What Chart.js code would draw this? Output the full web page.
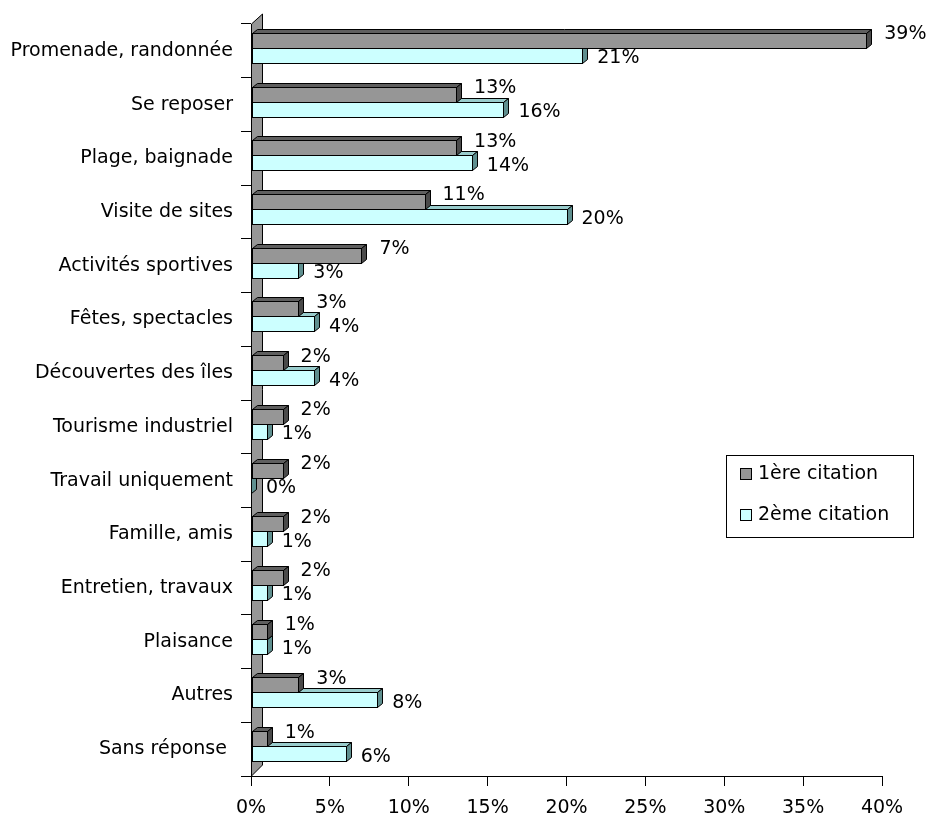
<!DOCTYPE html>
<html>
<head>
<meta charset="utf-8">
<title>Motifs de séjour</title>
<script src="https://cdn.jsdelivr.net/npm/chart.js@4"></script>
<style>
  html, body { margin: 0; padding: 0; background: #fff; }
  #wrap { width: 929px; height: 817px; position: relative; }
</style>
</head>
<body>
<div id="wrap"><canvas id="chart"></canvas></div>
<script>
const categories = [
    'Promenade, randonnée', 'Se reposer', 'Plage, baignade', 'Visite de sites',
    'Activités sportives', 'Fêtes, spectacles', 'Découvertes des îles',
    'Tourisme industriel', 'Travail uniquement', 'Famille, amis',
    'Entretien, travaux', 'Plaisance', 'Autres', 'Sans réponse '
];
const seriesNames = ['1ère citation', '2ème citation'];
const premiere = [39, 13, 13, 11, 7, 3, 2, 2, 2, 2, 2, 1, 3, 1];
const deuxieme = [21, 16, 14, 20, 3, 4, 4, 1, 0, 1, 1, 1, 8, 6];
const xTicks = [0, 5, 10, 15, 20, 25, 30, 35, 40];

const FONT = 'DejaVu Sans';

// faces: front, top, side
const shades = [
    { front: '#969696', top: '#5f5f5f', side: '#4a4a4a' },
    { front: '#ccffff', top: '#99cccc', side: '#5f8f8f' }
];
const DX = 5, DY = 4, SHIFT = -3;

function drawBar(ctx, bar, s) {
    const p = bar.getProps(['x', 'y', 'base', 'height'], true);
    const l = Math.round(p.base) + 0.5;
    const r = Math.round(p.x) + 0.5;
    const t = Math.round(p.y - p.height / 2 + SHIFT) + 0.5;
    const b = Math.round(p.y + p.height / 2 + SHIFT) + 0.5;
    ctx.strokeStyle = '#000';
    ctx.lineWidth = 1;
    // top face
    ctx.beginPath();
    ctx.moveTo(l, t); ctx.lineTo(l + DX, t - DY); ctx.lineTo(r + DX, t - DY); ctx.lineTo(r, t);
    ctx.closePath();
    ctx.fillStyle = s.top; ctx.fill(); ctx.stroke();
    // side face
    ctx.beginPath();
    ctx.moveTo(r, t); ctx.lineTo(r + DX, t - DY); ctx.lineTo(r + DX, b - DY); ctx.lineTo(r, b);
    ctx.closePath();
    ctx.fillStyle = s.side; ctx.fill(); ctx.stroke();
    // front
    ctx.fillStyle = s.front;
    ctx.fillRect(l, t, r - l, b - t);
    ctx.strokeRect(l, t, r - l, b - t);
}

const bars3d = {
    id: 'bars3d',
    beforeDatasetsDraw(chart) {
        // grey side wall behind the bars
        const ctx = chart.ctx, a = chart.chartArea;
        const x0 = Math.round(a.left) + 0.5;
        ctx.save();
        ctx.beginPath();
        ctx.moveTo(x0, a.top);
        ctx.lineTo(x0 + 11, a.top - 10);
        ctx.lineTo(x0 + 11, a.bottom - 11);
        ctx.lineTo(x0, a.bottom);
        ctx.closePath();
        ctx.fillStyle = '#969696';
        ctx.fill();
        ctx.strokeStyle = '#000';
        ctx.lineWidth = 1;
        ctx.stroke();
        ctx.restore();
    },
    beforeDatasetDraw() {
        return false;
    },
    afterDatasetsDraw(chart) {
        const ctx = chart.ctx;
        const m0 = chart.getDatasetMeta(0), m1 = chart.getDatasetMeta(1);
        ctx.save();
        for (let i = 0; i < categories.length; i++) {
            drawBar(ctx, m1.data[i], shades[1]);
            drawBar(ctx, m0.data[i], shades[0]);
        }
        // value labels
        ctx.fillStyle = '#000';
        ctx.font = '19px "' + FONT + '"';
        ctx.textAlign = 'left';
        ctx.textBaseline = 'middle';
        [m0, m1].forEach((meta, d) => {
            const vals = chart.data.datasets[d].data;
            meta.data.forEach((bar, i) => {
                const dx = d === 0 ? 18 : 15;
                const dy = d === 0 ? -6 : 3;
                ctx.fillText(vals[i] + '%', bar.x + dx, bar.y + SHIFT + dy);
            });
        });
        ctx.restore();
    },
    afterDraw(chart) {
        // legend box
        const ctx = chart.ctx;
        ctx.save();
        ctx.strokeStyle = '#000';
        ctx.lineWidth = 1;
        ctx.fillStyle = '#fff';
        ctx.fillRect(726.5, 455.5, 187, 82);
        ctx.strokeRect(726.5, 455.5, 187, 82);
        ctx.font = '19px "' + FONT + '"';
        ctx.textBaseline = 'middle';
        seriesNames.forEach((name, i) => {
            const y = 474 + i * 41;
            ctx.fillStyle = shades[i].front;
            ctx.fillRect(740.5, y - 5.5, 11, 11);
            ctx.strokeRect(740.5, y - 5.5, 11, 11);
            ctx.fillStyle = '#000';
            ctx.fillText(name, 758, y);
        });
        ctx.restore();
    }
};

new Chart(document.getElementById('chart'), {
    type: 'bar',
    data: {
        labels: categories,
        datasets: [
            { label: seriesNames[0], data: premiere, backgroundColor: shades[0].front },
            { label: seriesNames[1], data: deuxieme, backgroundColor: shades[1].front }
        ]
    },
    options: {
        indexAxis: 'y',
        responsive: true,
        maintainAspectRatio: false,
        animation: false,
        layout: { padding: { top: 24, right: 47, bottom: 0, left: 0 } },
        datasets: { bar: { categoryPercentage: 0.56, barPercentage: 1.0 } },
        plugins: {
            legend: { display: false },
            tooltip: { enabled: false }
        },
        scales: {
            x: {
                min: 0,
                max: 40,
                afterBuildTicks(scale) {
                    scale.ticks = xTicks.map(v => ({ value: v }));
                },
                afterFit(scale) { scale.height = 41; },
                grid: { drawOnChartArea: false, tickLength: 10, color: '#000' },
                border: { color: '#000' },
                ticks: {
                    color: '#000',
                    padding: 11,
                    maxRotation: 0,
                    font: { family: FONT, size: 19 },
                    callback: v => v + '%'
                }
            },
            y: {
                afterFit(scale) { scale.width = 251; },
                grid: { drawOnChartArea: false, tickLength: 10, color: '#000', offset: true },
                border: { color: '#000' },
                ticks: {
                    color: '#000',
                    padding: 8,
                    font: { family: FONT, size: 19 }
                }
            }
        }
    },
    plugins: [bars3d]
});
</script>
</body>
</html>
